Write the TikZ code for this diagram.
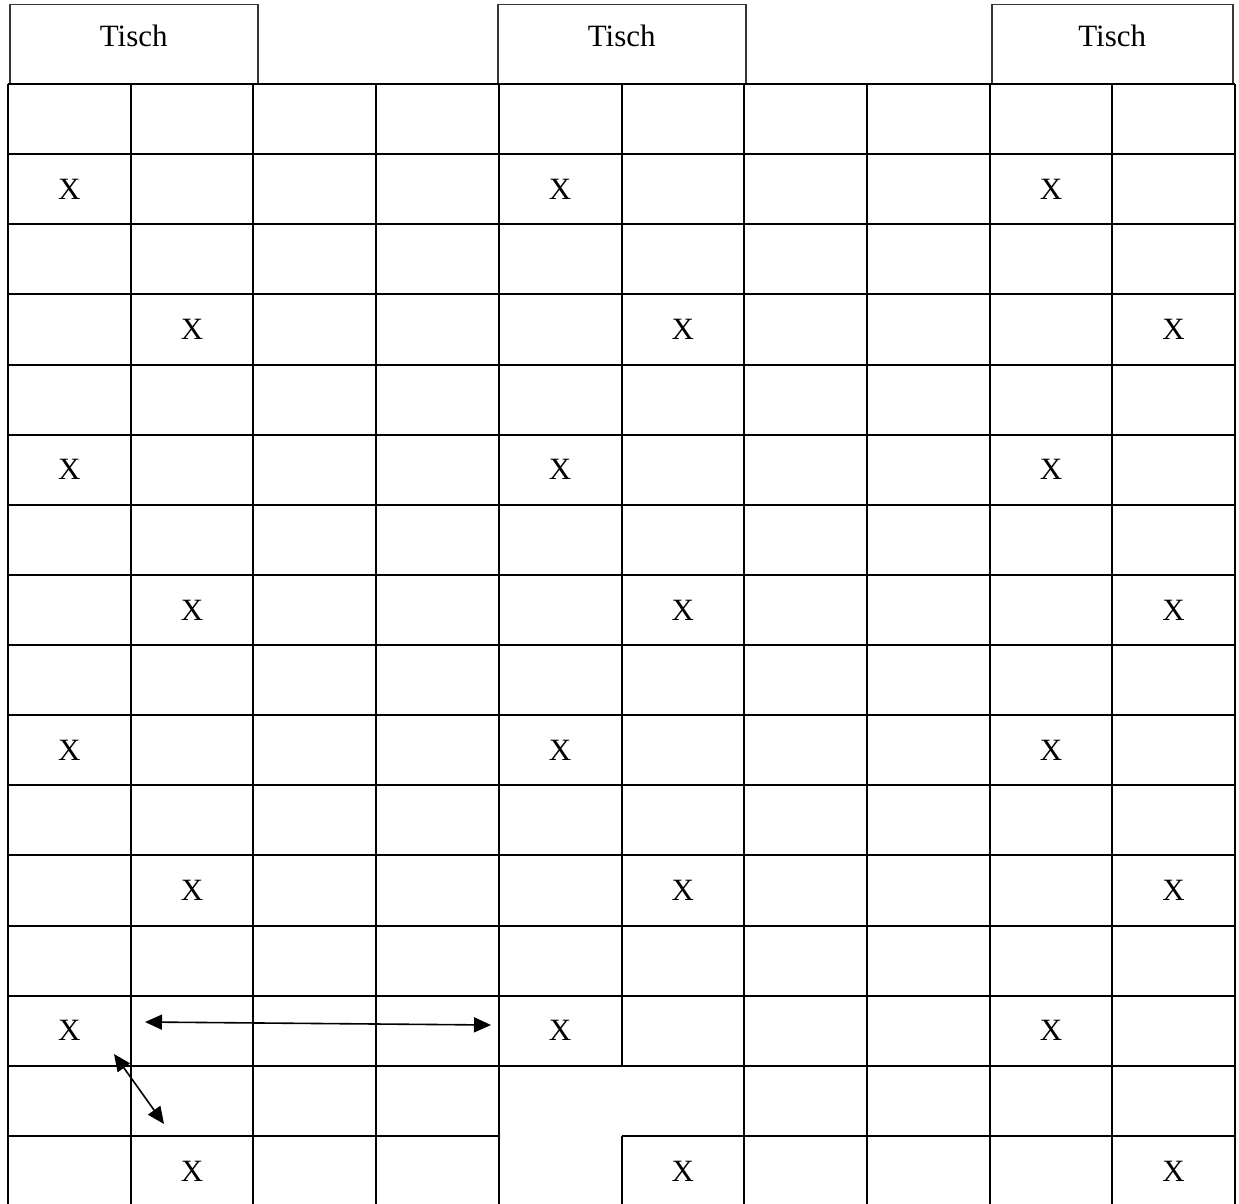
\documentclass[tikz,border=0pt]{standalone}
\usepackage{fontspec}
\setmainfont{Liberation Serif}
\usetikzlibrary{arrows.meta, positioning}
\definecolor{Cgrid}{RGB}{0,0,0}
\definecolor{Ctab}{RGB}{55,55,55}
\tikzset{
  grd/.style={draw=Cgrid, line width=2pt},
  tab/.style={
    draw=Ctab, line width=1.5pt, anchor=north west,
    minimum height=79pt, inner sep=0pt,
    text height=21pt, text depth=16pt,
    font=\fontsize{31}{36}\selectfont
  },
  mk/.style={inner sep=0pt, font=\fontsize{31}{36}\selectfont},
  a/.style={{Triangle[length=17pt,width=15pt]}-{Triangle[length=17pt,width=15pt]},
    line width=1.6pt, color=black}
}
\def\gx{8}
\def\gy{84}
\def\cw{122.7}
\def\rh{70.13}

\begin{document}
\begin{tikzpicture}[x=1pt, y=-1pt]
\useasboundingbox (0,0) rectangle (1239,1204);

% ─────────────────────────────────────────────────────────────────────────────
%  Tables
% ─────────────────────────────────────────────────────────────────────────────
\node[tab, minimum width=248pt] (tisch1) at (9,4)   {Tisch};
\node[tab, minimum width=248pt] (tisch2) at (497,4) {Tisch};
\node[tab, minimum width=241pt] (tisch3) at (991,4) {Tisch};

% ─────────────────────────────────────────────────────────────────────────────
%  Grid  (cells 5/6 of the last two rows are merged)
% ─────────────────────────────────────────────────────────────────────────────
\foreach \i in {0,1,2,3,4,6,7,8,9,10}
  \draw[grd] ({\gx+\i*\cw},\gy) -- ({\gx+\i*\cw},1204);
\draw[grd] ({\gx+5*\cw},\gy) -- ({\gx+5*\cw},{\gy+14*\rh});
\draw[grd] ({\gx+5*\cw},{\gy+15*\rh}) -- ({\gx+5*\cw},1204);

\foreach \j in {0,...,14}
  \draw[grd] (\gx,{\gy+\j*\rh}) -- ({\gx+10*\cw},{\gy+\j*\rh});
\draw[grd] (\gx,{\gy+15*\rh}) -- ({\gx+4*\cw},{\gy+15*\rh});
\draw[grd] ({\gx+5*\cw},{\gy+15*\rh}) -- ({\gx+10*\cw},{\gy+15*\rh});

% ─────────────────────────────────────────────────────────────────────────────
%  Seats
% ─────────────────────────────────────────────────────────────────────────────
\foreach \r in {2,6,10,14}
  \foreach \c in {1,5,9}
    \node[mk] (x\r-\c) at ({\gx+(\c-0.5)*\cw},{\gy+(\r-0.5)*\rh}) {X};
\foreach \r in {4,8,12,16}
  \foreach \c in {2,6,10}
    \node[mk] (x\r-\c) at ({\gx+(\c-0.5)*\cw},{\gy+(\r-0.5)*\rh}) {X};

% ─────────────────────────────────────────────────────────────────────────────
%  Distances
% ─────────────────────────────────────────────────────────────────────────────
\coordinate (hl) at (145,1022);
\coordinate (hr) at (491,1025);
\coordinate (dt) at (114,1054);
\coordinate (db) at (164,1124);

\draw[a] (hl) -- (hr);
\draw[a] (dt) -- (db);

\end{tikzpicture}
\end{document}
